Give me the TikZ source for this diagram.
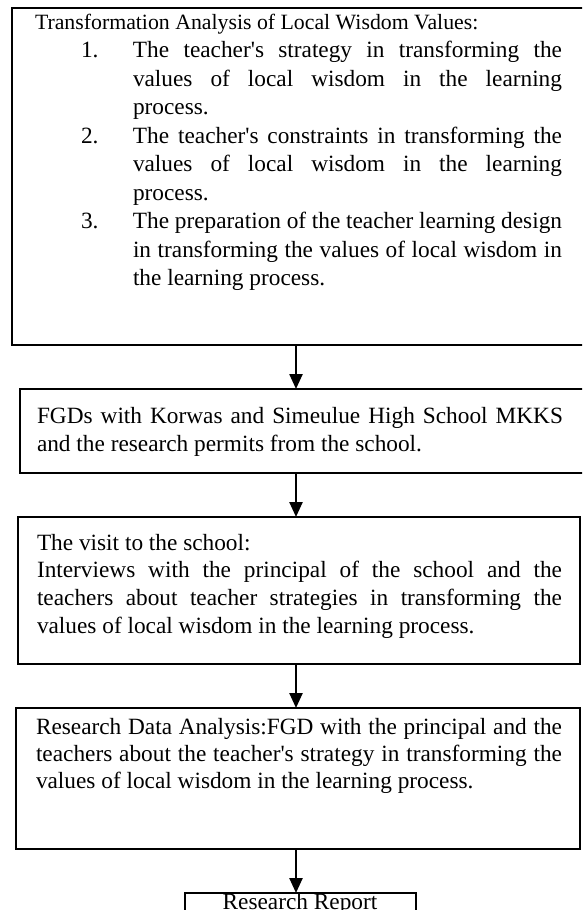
\documentclass[tikz,border=0pt]{standalone}
\usepackage{fontspec}
\setmainfont{Liberation Serif}
\usetikzlibrary{arrows.meta}

% body text: justified, no hyphenation, lines broken by hand
\newcommand\flowfont[1]{\fontsize{23.3}{#1}\selectfont
  \tolerance=10000\hbadness=10000\hyphenpenalty=10000\exhyphenpenalty=10000}
% numbered entry with a hanging indent
\newcommand\numitem[1]{\leftskip=98pt\noindent\llap{\makebox[52pt][l]{#1}}}
\newcommand\apos{\textquotesingle}

\begin{document}
\begin{tikzpicture}[x=1pt,y=1pt,
  box/.style={draw=black, line width=1.8pt, inner sep=0pt, outer sep=0pt,
    anchor=north west},
  txt/.style={inner sep=0pt, outer sep=0pt, anchor=base west, align=justify},
  flow/.style={draw=black, line width=2.4pt,
    -{Triangle[width=13pt,length=15pt]}}]
\useasboundingbox (0,0) rectangle (582,-910);
\clip (0,0) rectangle (582,-910);
\coordinate (ax) at (296,0);

% frames
\node[box, minimum width=580pt, minimum height=337pt] (b1) at (12,-8) {};
\node[box, minimum width=572pt, minimum height=84pt]  (b2) at (20,-389) {};
\node[box, minimum width=562pt, minimum height=147pt] (b3) at (18,-517) {};
\node[box, minimum width=564pt, minimum height=141pt] (b4) at (16,-708) {};
\node[box, minimum width=231pt, minimum height=40pt]  (b5) at (185,-893) {};

% texts
\node[txt, text width=527pt, font=\flowfont{28.5}] (t1) at (35,-29) {%
{\fontsize{21.8}{28.5}\selectfont Transformation Analysis of Local Wisdom Values:\par}
\numitem{1.}The teacher\apos s strategy in transforming the\linebreak
values of local wisdom in the learning\linebreak process.\par
\numitem{2.}The teacher\apos s constraints in transforming the\linebreak
values of local wisdom in the learning\linebreak process.\par
\numitem{3.}The preparation of the teacher learning design\linebreak
in transforming the values of local wisdom in\linebreak the learning process.\par};

\node[txt, text width=526pt, font=\flowfont{28}] (t2) at (37,-423) {%
FGDs with Korwas and Simeulue High School MKKS\linebreak
and the research permits from the school.};

\node[txt, text width=525pt, font=\flowfont{27.7}] (t3) at (37,-550) {%
The visit to the school:\par
Interviews with the principal of the school and the\linebreak
teachers about teacher strategies in transforming the\linebreak
values of local wisdom in the learning process.};

\node[txt, text width=526pt, font=\flowfont{27.2}] (t4) at (36,-734) {%
Research Data Analysis:FGD with the principal and the\linebreak
teachers about the teacher\apos s strategy in transforming the\linebreak
values of local wisdom in the learning process.};

\node[inner sep=0pt, anchor=base, font=\flowfont{28}] (t5) at (300,-909) {Research Report};

% connectors
\draw[flow] (b1.south -| ax) -- (b2.north -| ax);
\draw[flow] (b2.south -| ax) -- (b3.north -| ax);
\draw[flow] (b3.south -| ax) -- (b4.north -| ax);
\draw[flow] (b4.south -| ax) -- (b5.north -| ax);
\end{tikzpicture}
\end{document}
